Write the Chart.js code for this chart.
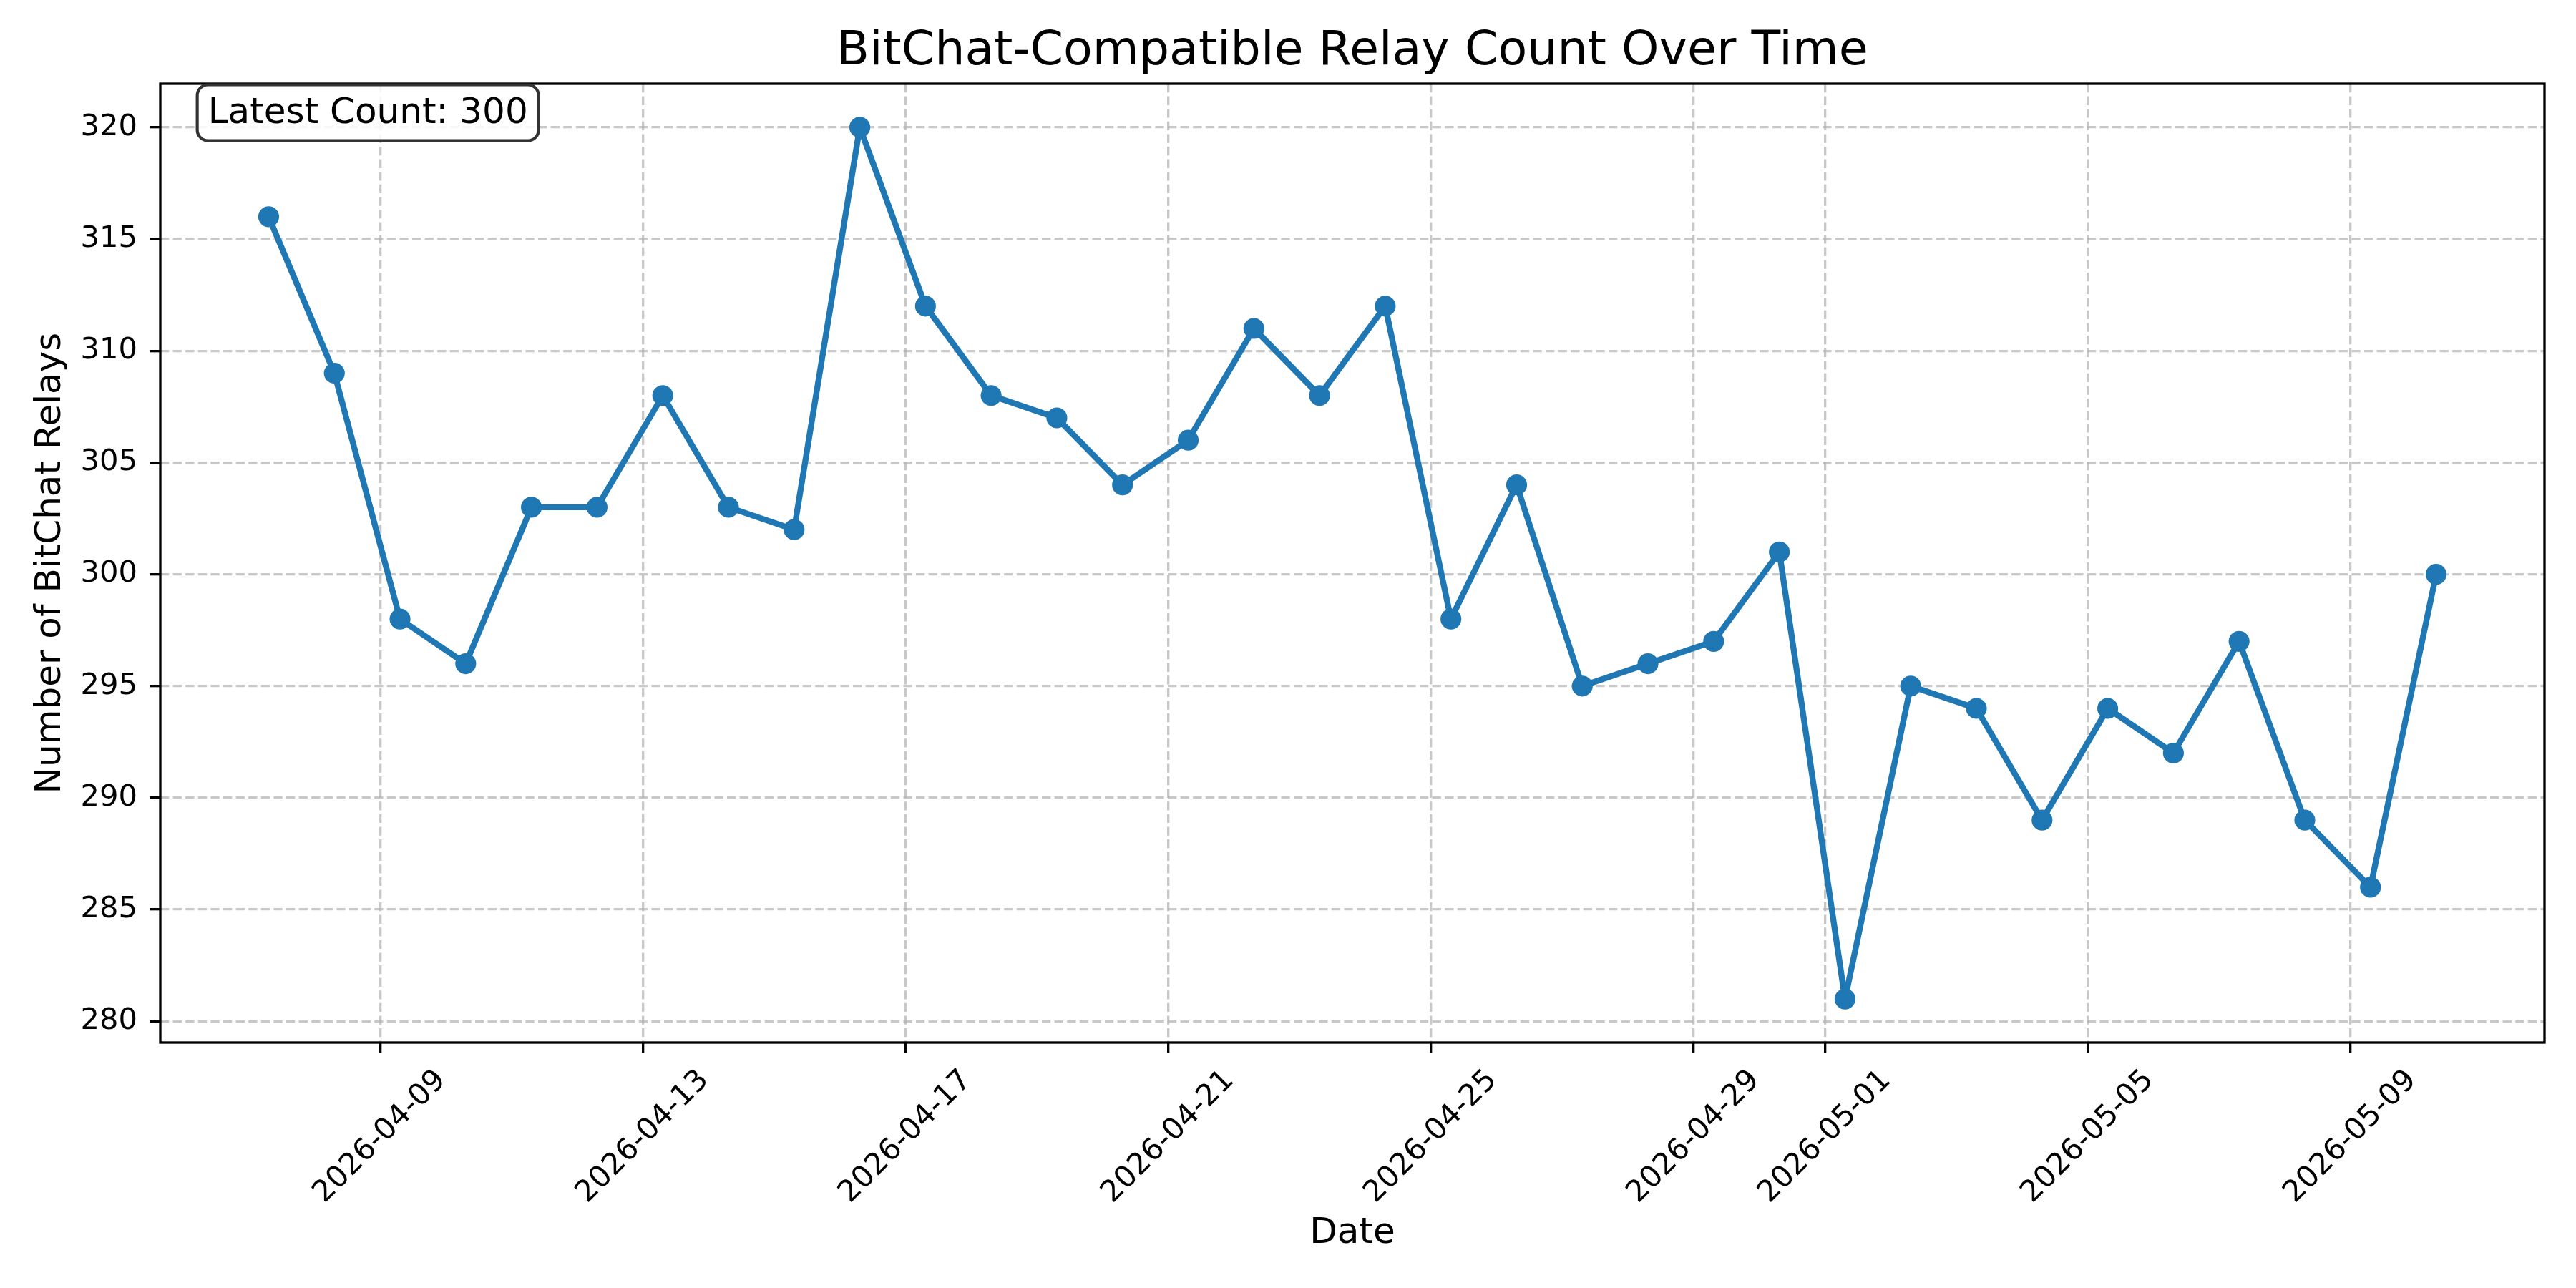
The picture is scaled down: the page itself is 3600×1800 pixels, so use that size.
<!DOCTYPE html>
<html><head><meta charset="utf-8">
<script src="https://cdn.jsdelivr.net/npm/chart.js@4/dist/chart.umd.min.js"></script>
<style>html,body{margin:0;padding:0;background:#fff;overflow:hidden}#c{display:block}</style>
</head><body><canvas id="c" width="3600" height="1800" style="width:3600px;height:1800px"></canvas>
<script>
// ---- data ----
const sampleDates = [
  '2026-04-07T07:15','2026-04-08T07:15','2026-04-09T07:15','2026-04-10T07:15','2026-04-11T07:15',
  '2026-04-12T07:15','2026-04-13T07:15','2026-04-14T07:15','2026-04-15T07:15','2026-04-16T07:15',
  '2026-04-17T07:15','2026-04-18T07:15','2026-04-19T07:15','2026-04-20T07:15','2026-04-21T07:15',
  '2026-04-22T07:15','2026-04-23T07:15','2026-04-24T07:15','2026-04-25T07:15','2026-04-26T07:15',
  '2026-04-27T07:15','2026-04-28T07:15','2026-04-29T07:15','2026-04-30T07:15','2026-05-01T07:15',
  '2026-05-02T07:15','2026-05-03T07:15','2026-05-04T07:15','2026-05-05T07:15','2026-05-06T07:15',
  '2026-05-07T07:15','2026-05-08T07:15','2026-05-09T07:15','2026-05-10T07:15'
];
const relayCounts = [316, 309, 298, 296, 303, 303, 308, 303, 302, 320,
                     312, 308, 307, 304, 306, 311, 308, 312, 298, 304,
                     295, 296, 297, 301, 281, 295, 294, 289, 294, 292,
                     297, 289, 286, 300];
const xTickLabels = ['2026-04-09','2026-04-13','2026-04-17','2026-04-21','2026-04-25',
                     '2026-04-29','2026-05-01','2026-05-05','2026-05-09'];
const yTickValues = [280, 285, 290, 295, 300, 305, 310, 315, 320];
const chartTitle = 'BitChat-Compatible Relay Count Over Time';
const xAxisTitle = 'Date';
const yAxisTitle = 'Number of BitChat Relays';

// ---- helpers ----
const DAY = 86400000;
function toDays(s) { return new Date(s.length > 10 ? s + ':00Z' : s + 'T00:00:00Z').getTime() / DAY; }

const points = relayCounts.map((v, i) => ({ x: toDays(sampleDates[i]), y: v }));
const xs = points.map(p => p.x);
const xMinD = Math.min(...xs), xMaxD = Math.max(...xs);
const yMinD = Math.min(...relayCounts), yMaxD = Math.max(...relayCounts);
const xPad = (xMaxD - xMinD) * 0.05, yPad = (yMaxD - yMinD) * 0.05;

const FONT = '"DejaVu Sans", "Liberation Sans", sans-serif';
const TICK_LEN = 14.6;
const BLUE = '#1f77b4';

const decorPlugin = {
  id: 'decor',
  beforeDraw(chart) {
    const ctx = chart.ctx;
    ctx.save(); ctx.fillStyle = '#fff'; ctx.fillRect(0, 0, chart.width, chart.height); ctx.restore();
  },
  afterDatasetsDraw(chart) {
    const ctx = chart.ctx, a = chart.chartArea;
    // axes frame (spines)
    ctx.save();
    ctx.strokeStyle = '#000'; ctx.lineWidth = 3.33;
    ctx.strokeRect(a.left, a.top, a.right - a.left, a.bottom - a.top);
    ctx.restore();
    // latest count annotation box
    const txt = 'Latest Count: ' + relayCounts[relayCounts.length - 1];
    ctx.save();
    ctx.font = '50px ' + FONT;
    const tw = ctx.measureText(txt).width;
    const tx = a.left + 0.02 * (a.right - a.left);
    const bx = tx - 15, by = a.top + 1.5, bw = tw + 30, bh = 78, r = 15;
    ctx.beginPath();
    ctx.moveTo(bx + r, by);
    ctx.arcTo(bx + bw, by, bx + bw, by + bh, r);
    ctx.arcTo(bx + bw, by + bh, bx, by + bh, r);
    ctx.arcTo(bx, by + bh, bx, by, r);
    ctx.arcTo(bx, by, bx + bw, by, r);
    ctx.closePath();
    ctx.fillStyle = 'rgba(255,255,255,0.85)'; ctx.fill();
    ctx.strokeStyle = '#333'; ctx.lineWidth = 4.17; ctx.stroke();
    ctx.fillStyle = '#000'; ctx.textAlign = 'left'; ctx.textBaseline = 'alphabetic';
    ctx.fillText(txt, tx, a.top + 54.7);
    ctx.restore();
  },
  afterDraw(chart) {
    // rotated, centre-aligned date tick labels (matplotlib style)
    const ctx = chart.ctx, sx = chart.scales.x, a = chart.chartArea;
    ctx.save();
    ctx.font = '41.67px ' + FONT; ctx.fillStyle = '#000';
    ctx.textAlign = 'center'; ctx.textBaseline = 'middle';
    const top = a.bottom + TICK_LEN + 14.6;
    const h = 41.67 * 1.164;
    xTickLabels.forEach(lbl => {
      const px = sx.getPixelForValue(toDays(lbl));
      const w = ctx.measureText(lbl).width;
      const half = (w + h) * Math.SQRT1_2 / 2;
      ctx.save(); ctx.translate(px, top + half); ctx.rotate(-Math.PI / 4);
      ctx.fillText(lbl, 0, 0); ctx.restore();
    });
    ctx.restore();
  }
};

const gridCommon = {
  color: 'rgba(176,176,176,0.7)', lineWidth: 3.33,
  drawTicks: true, tickLength: TICK_LEN, tickColor: '#000', tickWidth: 3.33, tickBorderDash: []
};

new Chart(document.getElementById('c'), {
  type: 'line',
  data: {
    datasets: [{
      data: points,
      borderColor: BLUE, borderWidth: 8.33, borderJoinStyle: 'round', borderCapStyle: 'square',
      pointRadius: 12.5, pointBorderWidth: 4.17, pointBackgroundColor: BLUE, pointBorderColor: BLUE,
      pointHoverRadius: 12.5, tension: 0, fill: false
    }]
  },
  options: {
    responsive: false, devicePixelRatio: 1, animation: false, events: [],
    layout: { padding: { left: 0, right: 44, top: 0, bottom: 0 } },
    plugins: {
      legend: { display: false }, tooltip: { enabled: false },
      title: {
        display: true, text: chartTitle, fullSize: false, color: '#000',
        font: { family: FONT, size: 66.67, weight: 'normal', lineHeight: 1.2 },
        padding: { top: 33, bottom: 4 }
      }
    },
    scales: {
      x: {
        type: 'linear', min: xMinD - xPad, max: xMaxD + xPad,
        afterBuildTicks: s => { s.ticks = xTickLabels.map(l => ({ value: toDays(l) })); },
        afterFit: s => { s.height = 343; },
        grid: gridCommon,
        border: { display: false, dash: [12.3, 5.3] },
        ticks: { display: false, autoSkip: false },
        title: { display: true, text: xAxisTitle, color: '#000',
                 font: { family: FONT, size: 50, lineHeight: 1.2 }, padding: { top: 0, bottom: 45.6 } }
      },
      y: {
        type: 'linear', min: yMinD - yPad, max: yMaxD + yPad,
        afterBuildTicks: s => { s.ticks = yTickValues.map(v => ({ value: v })); },
        afterFit: s => { s.width = 224; },
        grid: gridCommon,
        border: { display: false, dash: [12.3, 5.3] },
        ticks: { autoSkip: false, color: '#000', padding: 17.4,
                 font: { family: FONT, size: 41.67 }, callback: v => String(v) },
        title: { display: true, text: yAxisTitle, color: '#000',
                 font: { family: FONT, size: 50, lineHeight: 1.2 }, padding: { top: 40.7, bottom: 0 } }
      }
    }
  },
  plugins: [decorPlugin]
});
</script></body></html>
